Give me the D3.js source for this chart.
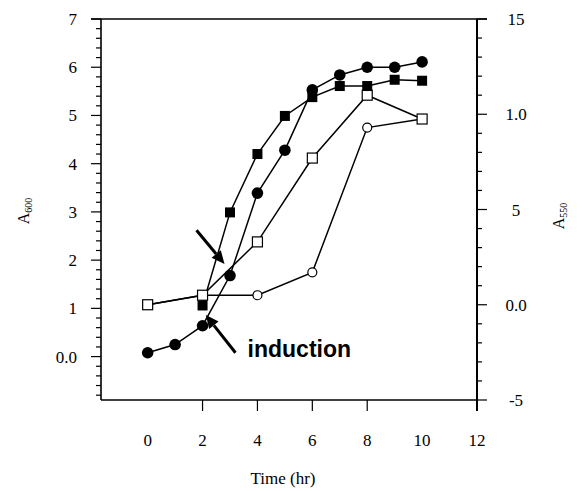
<!DOCTYPE html>
<html><head><meta charset="utf-8">
<script src="https://cdn.jsdelivr.net/npm/d3@7"></script>
<style>
html,body{margin:0;padding:0;background:#fff;}
svg{display:block;}
text{font-family:"Liberation Serif","Times New Roman",serif;fill:#000;}
</style></head>
<body>
<svg id="chart" width="585" height="491"></svg>
<script>
// ---- data ----
const time = [0, 1, 2, 3, 4, 5, 6, 7, 8, 9, 10];
const filledCircles = [0.08, 0.25, 0.64, 1.68, 3.39, 4.28, 5.53, 5.84, 6.0, 6.0, 6.11];
const squareTime = [2, 3, 4, 5, 6, 7, 8, 9, 10];
const filledSquares = [1.06, 2.99, 4.2, 4.99, 5.38, 5.61, 5.61, 5.74, 5.72];
const openTime = [0, 2, 4, 6, 8, 10];
const openSquares = [0.0, 0.5, 3.3, 7.7, 11.0, 9.75];
const openCircles = [0.0, 0.5, 0.5, 1.7, 9.3, 9.75];
const xTickValues = [0, 2, 4, 6, 8, 10, 12];
const xTickMarks = [2, 4, 6, 8];
const leftTickValues = [0, 1, 2, 3, 4, 5, 6, 7];
const leftTickLabels = ["0.0", "1", "2", "3", "4", "5", "6", "7"];
const rightTickValues = [-5, 0, 5, 10, 15];
const rightTickLabels = ["-5", "0.0", "5", "1.0", "15"];
const annotationText = "induction";
const arrows = [ // [tailT, tailV, headT, headV] on left axis scale
  [1.78, 2.62, 2.8, 1.92],
  [3.2, 0.08, 2.12, 0.86]
];
const annotationPos = [3.64, 0.0];

// ---- scales ----
const svg = d3.select("#chart");
const L = 101, R = 477, T = 19, B = 400;
const x = d3.scaleLinear().domain([-1.7, 12]).range([L, R]);
const yL = d3.scaleLinear().domain([-0.9, 7]).range([B, T]);
const yR = d3.scaleLinear().domain([-5, 15]).range([B, T]);

// ---- frame ----
svg.append("line").attr("x1", L - 10).attr("x2", R + 10).attr("y1", T).attr("y2", T)
  .attr("stroke", "#000").attr("stroke-width", 1.6);
svg.append("line").attr("x1", L).attr("x2", R).attr("y1", B).attr("y2", B)
  .attr("stroke", "#000").attr("stroke-width", 1.6);
svg.append("line").attr("x1", L).attr("x2", L).attr("y1", T).attr("y2", B)
  .attr("stroke", "#000").attr("stroke-width", 1.6);
svg.append("line").attr("x1", R).attr("x2", R).attr("y1", T).attr("y2", B + 11)
  .attr("stroke", "#000").attr("stroke-width", 2);

// left ticks
const leftMinor = d3.range(-0.8, 7.0001, 0.2).map(v => +v.toFixed(1));
svg.append("g").selectAll("line").data(leftMinor).join("line")
  .attr("x1", d => Math.abs(d - Math.round(d)) < 1e-6 ? L - 10 : L - 5).attr("x2", L)
  .attr("y1", d => yL(d)).attr("y2", d => yL(d))
  .attr("stroke", "#000").attr("stroke-width", 1.2);
svg.append("g").selectAll("text").data(leftTickValues).join("text")
  .attr("x", 77).attr("y", d => yL(d) + 6)
  .attr("text-anchor", "end").attr("font-size", 17)
  .text((d, i) => leftTickLabels[i]);

// right ticks
const rightMinor = d3.range(-5, 15.0001, 1);
svg.append("g").selectAll("line").data(rightMinor).join("line")
  .attr("x1", R).attr("x2", d => d % 5 === 0 ? R + 10 : R + 5)
  .attr("y1", d => yR(d)).attr("y2", d => yR(d))
  .attr("stroke", "#000").attr("stroke-width", 1.2);
svg.append("g").selectAll("text").data(rightTickValues).join("text")
  .attr("x", 516).attr("y", d => yR(d) + 6)
  .attr("text-anchor", "middle").attr("font-size", 17)
  .text((d, i) => rightTickLabels[i]);

// x ticks
svg.append("g").selectAll("line").data(xTickMarks).join("line")
  .attr("x1", d => x(d)).attr("x2", d => x(d)).attr("y1", B).attr("y2", B + 11)
  .attr("stroke", "#000").attr("stroke-width", 1.2);
svg.append("g").selectAll("text").data(xTickValues).join("text")
  .attr("x", d => x(d)).attr("y", 446)
  .attr("text-anchor", "middle").attr("font-size", 17)
  .text(d => d);

// axis titles
svg.append("text").attr("x", 283).attr("y", 484).attr("text-anchor", "middle")
  .attr("font-size", 17).text("Time (hr)");
const lt = svg.append("text").attr("transform", "translate(29,211) rotate(-90)")
  .attr("text-anchor", "middle").attr("font-size", 16);
lt.append("tspan").text("A");
lt.append("tspan").attr("font-size", 10).attr("dy", 3).text("600");
const rt = svg.append("text").attr("transform", "translate(564,216) rotate(-90)")
  .attr("text-anchor", "middle").attr("font-size", 16);
rt.append("tspan").text("A");
rt.append("tspan").attr("font-size", 10).attr("dy", 3).text("550");

// ---- series ----
const lineL = (xs, ys) => d3.line().x((d, i) => x(xs[i])).y(d => yL(d))(ys);
const lineR = (xs, ys) => d3.line().x((d, i) => x(xs[i])).y(d => yR(d))(ys);
const lw = 1.5;

svg.append("path").attr("d", lineR(openTime, openCircles)).attr("fill", "none").attr("stroke", "#000").attr("stroke-width", lw);
svg.append("path").attr("d", lineR(openTime, openSquares)).attr("fill", "none").attr("stroke", "#000").attr("stroke-width", lw);
svg.append("path").attr("d", lineL(squareTime, filledSquares)).attr("fill", "none").attr("stroke", "#000").attr("stroke-width", lw);
svg.append("path").attr("d", lineL(time, filledCircles)).attr("fill", "none").attr("stroke", "#000").attr("stroke-width", lw);

svg.append("g").selectAll("circle").data(openCircles).join("circle")
  .attr("cx", (d, i) => x(openTime[i])).attr("cy", d => yR(d)).attr("r", 4.5)
  .attr("fill", "#fff").attr("stroke", "#000").attr("stroke-width", 1.2);
svg.append("g").selectAll("rect").data(openSquares).join("rect")
  .attr("x", (d, i) => x(openTime[i]) - 5).attr("y", d => yR(d) - 5)
  .attr("width", 10).attr("height", 10)
  .attr("fill", "#fff").attr("stroke", "#000").attr("stroke-width", 1.2);
svg.append("g").selectAll("rect").data(filledSquares).join("rect")
  .attr("x", (d, i) => x(squareTime[i]) - 5).attr("y", d => yL(d) - 5)
  .attr("width", 10).attr("height", 10).attr("fill", "#000");
svg.append("g").selectAll("circle").data(filledCircles).join("circle")
  .attr("cx", (d, i) => x(time[i])).attr("cy", d => yL(d)).attr("r", 5.8)
  .attr("fill", "#000");

// ---- annotation ----
arrows.forEach(a => {
  const x1 = x(a[0]), y1 = yL(a[1]), x2 = x(a[2]), y2 = yL(a[3]);
  const ang = Math.atan2(y2 - y1, x2 - x1);
  const hl = 13, hw = 6;
  const bx = x2 - hl * Math.cos(ang), by = y2 - hl * Math.sin(ang);
  svg.append("line").attr("x1", x1).attr("y1", y1).attr("x2", bx).attr("y2", by)
    .attr("stroke", "#000").attr("stroke-width", 3);
  const px = -Math.sin(ang) * hw, py = Math.cos(ang) * hw;
  svg.append("path")
    .attr("d", `M${x2},${y2}L${bx + px},${by + py}L${bx - px},${by - py}Z`)
    .attr("fill", "#000");
});
svg.append("text").attr("x", x(annotationPos[0])).attr("y", yL(annotationPos[1]))
  .attr("font-family", "'Liberation Sans', Arial, sans-serif")
  .attr("font-weight", "bold").attr("font-size", 23)
  .style("font-family", "'Liberation Sans', Arial, sans-serif")
  .text(annotationText);
</script>
</body></html>
